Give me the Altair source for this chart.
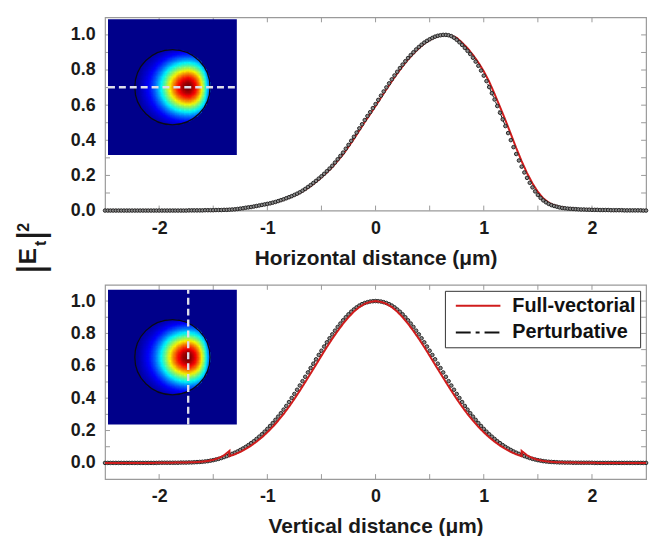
import altair as alt
import pandas as pd

# ---------------------------------------------------------------------------
# Intensity profiles |E_t|^2 of the mode, normalised to their maximum.
# Horizontal cut (top panel) and vertical cut (bottom panel).
# ---------------------------------------------------------------------------
X_START = -2.5      # um, first sample of every profile
PERT_STEP = 0.025   # um, spacing of the perturbative samples
FV_STEP = 0.05      # um, spacing of the full-vectorial samples

# perturbative solution, horizontal cut (-2.5 ... 2.5 um)
PERT_H = [
    0, 0, 0, 0,  0, 0, 0, 0,  0, 0, 0, 0,  0, 0, 0, 0,
    0, 0, 0, 0,  0, 0, 0, 0,  0, 0, 0, 0,
    0.000, 0.000, 0.000, 0.001,
    0.001, 0.001, 0.001, 0.001,
    0.001, 0.002, 0.002, 0.002,
    0.002, 0.003, 0.003, 0.003,
    0.004, 0.004, 0.005, 0.006,
    0.007, 0.009, 0.011, 0.013,
    0.016, 0.018, 0.020, 0.023,
    0.026, 0.029, 0.032, 0.035,
    0.038, 0.041, 0.045, 0.049,
    0.054, 0.059, 0.064, 0.070,
    0.076, 0.082, 0.089, 0.096,
    0.104, 0.113, 0.123, 0.134,
    0.145, 0.157, 0.169, 0.182,
    0.195, 0.209, 0.224, 0.239,
    0.255, 0.273, 0.292, 0.311,
    0.330, 0.352, 0.374, 0.397,
    0.420, 0.444, 0.468, 0.491,
    0.515, 0.538, 0.560, 0.583,
    0.606, 0.630, 0.654, 0.678,
    0.701, 0.724, 0.747, 0.769,
    0.790, 0.811, 0.831, 0.850,
    0.868, 0.885, 0.901, 0.917,
    0.931, 0.944, 0.956, 0.966,
    0.975, 0.983, 0.990, 0.995,
    0.998, 1.000, 1.000, 0.998,
    0.993, 0.984, 0.972, 0.958,
    0.943, 0.926, 0.909, 0.891,
    0.870, 0.848, 0.824, 0.797,
    0.768, 0.737, 0.703, 0.668,
    0.632, 0.595, 0.557, 0.519,
    0.481, 0.441, 0.401, 0.361,
    0.322, 0.285, 0.250, 0.217,
    0.186, 0.158, 0.132, 0.109,
    0.089, 0.072, 0.058, 0.047,
    0.038, 0.031, 0.026, 0.022,
    0.018, 0.015, 0.013, 0.011,
    0.010, 0.009, 0.008, 0.007,
    0.006, 0.006, 0.005, 0.005,
    0.004, 0.004, 0.004, 0.003,
    0.003, 0.003, 0.003, 0.002,
    0.002, 0.002, 0.002, 0.002,
    0.001, 0.001, 0.001, 0.001,
    0.001, 0.001, 0.001, 0.000,
    0.000,
]

# full-vectorial solution, horizontal cut (-2.5 ... 2.5 um)
FV_H = [
    0, 0, 0, 0, 0, 0, 0, 0, 0, 0,
    0, 0, 0, 0, 0, 0,
    0.001, 0.001, 0.001, 0.002,
    0.002, 0.003, 0.004, 0.005,
    0.006, 0.010, 0.015, 0.019,
    0.025, 0.030, 0.036, 0.043,
    0.052, 0.062, 0.073, 0.086,
    0.100, 0.119, 0.139, 0.163,
    0.189, 0.217, 0.247, 0.283,
    0.320, 0.363, 0.408, 0.456,
    0.504, 0.549,
    0.595, 0.643, 0.690, 0.736,
    0.780, 0.821, 0.860, 0.893,
    0.924, 0.950, 0.971, 0.987,
    0.997, 1.000, 0.996, 0.983,
    0.956, 0.924, 0.886, 0.843,
    0.793, 0.734, 0.664, 0.590,
    0.515, 0.436, 0.356, 0.281,
    0.213, 0.155, 0.106, 0.070,
    0.045, 0.030, 0.021, 0.015,
    0.011, 0.009, 0.007, 0.006,
    0.005, 0.004, 0.003, 0.003,
    0.002, 0.002, 0.001, 0.001,
    0.001, 0.000, 0.000,
]

# perturbative solution, vertical cut (-2.5 ... 2.5 um)
PERT_V = [
    0, 0, 0, 0, 0, 0, 0, 0, 0, 0,
    0, 0, 0, 0, 0, 0, 0, 0, 0, 0,
    0.001, 0.001, 0.001, 0.001, 0.001, 0.001, 0.001, 0.001, 0.002, 0.002,
    0.002, 0.003, 0.003, 0.004, 0.005, 0.006, 0.007, 0.009, 0.011, 0.014,
    0.017, 0.021, 0.025, 0.030, 0.036, 0.042, 0.049, 0.056, 0.063, 0.071,
    0.080, 0.089, 0.099, 0.110, 0.122, 0.134, 0.148, 0.162, 0.177, 0.193,
    0.210, 0.228, 0.246, 0.266, 0.286, 0.307, 0.329, 0.352, 0.376, 0.401,
    0.426, 0.452, 0.478, 0.505, 0.532, 0.559, 0.586, 0.613, 0.640, 0.667,
    0.693, 0.719, 0.745, 0.770, 0.794, 0.817, 0.840, 0.861, 0.881, 0.900,
    0.918, 0.934, 0.948, 0.961, 0.972, 0.981, 0.988, 0.993, 0.997, 0.999,
    1.000,
    0.999, 0.997, 0.993, 0.988, 0.981, 0.972, 0.961, 0.948, 0.934, 0.918,
    0.900, 0.881, 0.861, 0.840, 0.817, 0.794, 0.770, 0.745, 0.719, 0.693,
    0.667, 0.640, 0.613, 0.586, 0.559, 0.532, 0.505, 0.478, 0.452, 0.426,
    0.401, 0.376, 0.352, 0.329, 0.307, 0.286, 0.266, 0.246, 0.228, 0.210,
    0.193, 0.177, 0.162, 0.148, 0.134, 0.122, 0.110, 0.099, 0.089, 0.080,
    0.071, 0.063, 0.056, 0.049, 0.042, 0.036, 0.030, 0.025, 0.021, 0.017,
    0.014, 0.011, 0.009, 0.007, 0.006, 0.005, 0.004, 0.003, 0.003, 0.002,
    0.002, 0.002, 0.001, 0.001, 0.001, 0.001, 0.001, 0.001, 0.001, 0.001,
    0, 0, 0, 0, 0, 0, 0, 0, 0, 0,
    0, 0, 0, 0, 0, 0, 0, 0, 0, 0,
]

# full-vectorial solution, vertical cut (-2.5 ... 2.5 um), core-side values
FV_V = [
    0, 0, 0, 0, 0, 0, 0, 0, 0, 0,
    0.001, 0.001, 0.001, 0.002, 0.002, 0.003, 0.004, 0.005, 0.008, 0.012,
    0.019, 0.030, 0.047, 0.042, 0.053, 0.068, 0.086, 0.107, 0.131, 0.158,
    0.189, 0.223, 0.261, 0.302, 0.347, 0.395, 0.446, 0.499, 0.553, 0.607,
    0.662, 0.716, 0.767, 0.815, 0.860, 0.900, 0.935, 0.963, 0.983, 0.995,
    1.000,
    0.995, 0.983, 0.963, 0.935, 0.900, 0.860, 0.815, 0.767, 0.716, 0.662,
    0.607, 0.553, 0.499, 0.446, 0.395, 0.347, 0.302, 0.261, 0.223, 0.189,
    0.158, 0.131, 0.107, 0.086, 0.068, 0.053, 0.042, 0.047, 0.030, 0.019,
    0.012, 0.008, 0.005, 0.004, 0.003, 0.002, 0.002, 0.001, 0.001, 0.001,
    0, 0, 0, 0, 0, 0, 0, 0, 0, 0,
]
# cladding-side values at the core boundary (the field jumps there)
FV_V_EDGE_X = [-1.35, 1.35]
FV_V_EDGE = [0.074, 0.074]

for name, arr, n in (("PERT_H", PERT_H, 201), ("FV_H", FV_H, 101),
                     ("PERT_V", PERT_V, 201), ("FV_V", FV_V, 101)):
    if len(arr) != n:
        raise ValueError(f"{name} has {len(arr)} samples, expected {n}")

SERIES = ["Full-vectorial", "Perturbative"]
SERIES_COLORS = ["#d01c1c", "#111111"]
SERIES_DASH = [[1, 0], [15, 5, 4, 5, 15, 200]]

X_LABELS = [-2, -1, 0, 1, 2]
Y_LABELS = [0.0, 0.2, 0.4, 0.6, 0.8, 1.0]
X_MINOR = [-2.0, -1.5, -1.0, -0.5, 0.0, 0.5, 1.0, 1.5, 2.0]
Y_MINOR = [0.0, 0.1, 0.2, 0.3, 0.4, 0.5, 0.6, 0.7, 0.8, 0.9, 1.0]

# inset: mode intensity over the fibre core
CORE_RADIUS = 1.49          # um
CUT_X = 0.625               # um, position of the vertical cut
INSET_X = [-2.55, 2.55]     # um
INSET_Y = [-2.675, 2.675]   # um
INSET_PX_X = [3, 133]       # pixel span inside the plot area
COLOR_GAMMA = 0.7           # gamma applied before the jet colour map
JET_STOPS = [0, 0.11, 0.36, 0.63, 0.89, 1]
JET_COLORS = ["#00008a", "#0000ff", "#00ffff", "#ffff00", "#ff0000", "#800000"]

W = 546
H_TOP = 195
H_BOT = 196
FONT = "Liberation Sans"
INK = "#1a1a1a"
FRAME = "#9a9a9a"

pert_x = [round(X_START + i * PERT_STEP, 4) for i in range(len(PERT_H))]
fv_x = [round(X_START + i * FV_STEP, 4) for i in range(len(FV_H))]


def series_frame(xs, ys, name, extra=()):
    rows = [(x, y, x) for x, y in zip(xs, ys)]
    for ex, ey in extra:
        rows.append((ex, ey, ex + (1e-4 if ex > 0 else -1e-4)))
    df = pd.DataFrame(rows, columns=["x", "y", "o"])
    df["s"] = name
    return df


def x_enc(title):
    return alt.X(
        "x:Q",
        scale=alt.Scale(domain=[-2.5, 2.5], nice=False, zero=False),
        axis=alt.Axis(values=X_LABELS, labelExpr="'' + datum.value", title=title,
                      grid=False, ticks=False, tickSize=0, domain=False,
                      labelPadding=9, titlePadding=10, labelFontSize=18,
                      titleFontSize=21),
    )


def y_enc(domain):
    return alt.Y(
        "y:Q",
        scale=alt.Scale(domain=domain, nice=False, zero=False),
        axis=alt.Axis(values=Y_LABELS, format=".1f", title=None, grid=False,
                      ticks=False, tickSize=0, domain=False, labelPadding=10,
                      labelFontSize=18),
    )


LEGEND = alt.Legend(
    title=None, orient="top-right", offset=6, fillColor="white",
    strokeColor="#333333", padding=4, symbolType="stroke", symbolSize=2025,
    symbolStrokeWidth=2, symbolOffset=6, clipHeight=22, rowPadding=5,
    labelOffset=11, labelFont=FONT, labelFontSize=20, labelFontWeight="bold",
    labelColor="#111111", labelLimit=300,
)


def profile_panel(pert, fv_df, xtitle, ydomain, height, legend, red_on_top, extra=()):
    X = x_enc(xtitle)
    Y = y_enc(ydomain)
    color = alt.Color("s:N", scale=alt.Scale(domain=SERIES, range=SERIES_COLORS),
                      legend=legend)
    dash = alt.StrokeDash("s:N", scale=alt.Scale(domain=SERIES, range=SERIES_DASH),
                          legend=legend)
    pert_df = series_frame(pert_x, pert, SERIES[1])

    black = alt.Chart(pert_df).mark_line(strokeWidth=1).encode(
        x=X, y=Y, color=color, strokeDash=dash, order="o:Q")
    red = alt.Chart(fv_df).mark_line(strokeWidth=2).encode(
        x=X, y=Y, color=color, strokeDash=dash, order="o:Q")
    dots = alt.Chart(pert_df).mark_point(
        shape="circle", filled=True, size=13, fill="#8c8c8c", stroke="#1a1a1a",
        strokeWidth=0.9, opacity=1).encode(x=X, y=Y)

    xt = pd.DataFrame({"x": X_MINOR})
    yt = pd.DataFrame({"y": Y_MINOR})
    tick = dict(color=FRAME, strokeWidth=1)
    ticks = [
        alt.Chart(xt).mark_rule(**tick).encode(x=X, y=alt.value(height), y2=alt.value(height - 5)),
        alt.Chart(xt).mark_rule(**tick).encode(x=X, y=alt.value(0), y2=alt.value(5)),
        alt.Chart(yt).mark_rule(**tick).encode(y=Y, x=alt.value(0), x2=alt.value(5)),
        alt.Chart(yt).mark_rule(**tick).encode(y=Y, x=alt.value(W), x2=alt.value(W - 5)),
    ]
    curves = [black, dots, red] if red_on_top else [black, red, dots]
    return ticks + curves + list(extra)


# mode intensity over the core, built from the two perturbative cuts
cells = []
for i in range(1, 200, 2):
    for j in range(1, 200, 2):
        xc, yc = pert_x[i], pert_x[j]
        inten = PERT_H[i] * PERT_V[j]
        if inten > 0 and xc * xc + yc * yc <= CORE_RADIUS ** 2:
            cells.append((xc - 0.025, xc + 0.025, yc - 0.025, yc + 0.025,
                          round(inten ** COLOR_GAMMA, 4)))
cells_df = pd.DataFrame(cells, columns=["x0", "x1", "y0", "y1", "v"])
px_per_um = (INSET_PX_X[1] - INSET_PX_X[0]) / (INSET_X[1] - INSET_X[0])
core_size = (2 * CORE_RADIUS * px_per_um) ** 2


def inset_panel(y_px, horizontal_cut):
    IX = lambda f: alt.X(f, scale=alt.Scale(domain=INSET_X, range=INSET_PX_X,
                                            nice=False, zero=False), axis=None)
    IY = lambda f: alt.Y(f, scale=alt.Scale(domain=INSET_Y, range=y_px,
                                            nice=False, zero=False), axis=None)
    jet = alt.Scale(domain=JET_STOPS, range=JET_COLORS, interpolate="rgb")
    bg = alt.Chart(pd.DataFrame({"x0": [INSET_X[0]], "x1": [INSET_X[1]],
                                 "y0": [INSET_Y[0]], "y1": [INSET_Y[1]]})
                   ).mark_rect(fill=JET_COLORS[0], fillOpacity=1, opacity=1).encode(
        x=IX("x0:Q"), x2="x1:Q", y=IY("y0:Q"), y2="y1:Q")
    field = alt.Chart(cells_df).mark_rect(strokeWidth=0.5, opacity=1).encode(
        x=IX("x0:Q"), x2="x1:Q", y=IY("y0:Q"), y2="y1:Q",
        fill=alt.Fill("v:Q", scale=jet, legend=None),
        stroke=alt.Stroke("v:Q", scale=jet, legend=None))
    core = alt.Chart(pd.DataFrame({"x0": [0.0], "y0": [0.0]})).mark_point(
        shape="circle", filled=False, size=core_size, color="#0a0a14",
        strokeWidth=1.3, opacity=1).encode(x=IX("x0:Q"), y=IY("y0:Q"))
    cut_style = dict(color="#dedeea", strokeWidth=2.4, strokeDash=[7, 4])
    if horizontal_cut:
        cut = alt.Chart(pd.DataFrame({"x0": [INSET_X[0]], "x1": [INSET_X[1]], "y0": [0.0]})
                        ).mark_rule(**cut_style).encode(x=IX("x0:Q"), x2="x1:Q", y=IY("y0:Q"))
    else:
        cut = alt.Chart(pd.DataFrame({"x0": [CUT_X], "y0": [INSET_Y[0]], "y1": [INSET_Y[1]]})
                        ).mark_rule(**cut_style).encode(x=IX("x0:Q"), y=IY("y0:Q"), y2="y1:Q")
    return alt.layer(bg, field, core, cut)


# shared ordinate title |E_t|^2, set piece by piece beside the upper panel
one = pd.DataFrame({"k": [0]})
TITLE_PARTS = [  # text, x, y, size, weight
    ("|", -63, 254, 38, "normal"),
    ("E", -70, 241, 25, "bold"),
    ("t", -60, 228, 16, "bold"),
    ("|", -63, 220, 38, "normal"),
    ("2", -77, 212, 16, "bold"),
]
title_marks = [
    alt.Chart(one).mark_text(text=t, x=x, y=y, fontSize=s, fontWeight=w, angle=270,
                             align="center", baseline="alphabetic", font=FONT,
                             color=INK).encode(opacity=alt.value(1))
    for t, x, y, s, w in TITLE_PARTS
]

fv_h_df = series_frame(fv_x, FV_H, SERIES[0])
fv_v_df = series_frame(fv_x, FV_V, SERIES[0], extra=list(zip(FV_V_EDGE_X, FV_V_EDGE)))

top_main = alt.layer(*profile_panel(PERT_H, fv_h_df, "Horizontal distance (\u03bcm)",
                                    [0, 1.1], H_TOP, None, False, extra=title_marks))
bot_main = alt.layer(*profile_panel(PERT_V, fv_v_df, "Vertical distance (\u03bcm)",
                                    [-0.1, 1.1], H_BOT, LEGEND, True))

top = alt.layer(top_main, inset_panel([139, 2], True)).resolve_scale(
    x="independent", y="independent").properties(width=W, height=H_TOP)
bot = alt.layer(bot_main, inset_panel([141, 5], False)).resolve_scale(
    x="independent", y="independent").properties(width=W, height=H_BOT)

chart = (
    alt.vconcat(top, bot, spacing=75)
    .resolve_scale(color="independent", strokeDash="independent")
    .properties(bounds="flush", padding={"left": 12, "top": 13, "right": 3, "bottom": 2})
    .configure_view(stroke=FRAME, strokeWidth=1.2)
    .configure_axis(labelFont=FONT, titleFont=FONT, labelFontWeight="bold",
                    titleFontWeight="bold", labelColor=INK, titleColor=INK)
)

chart.save("out.html", embed_options={"renderer": "svg", "actions": False})
